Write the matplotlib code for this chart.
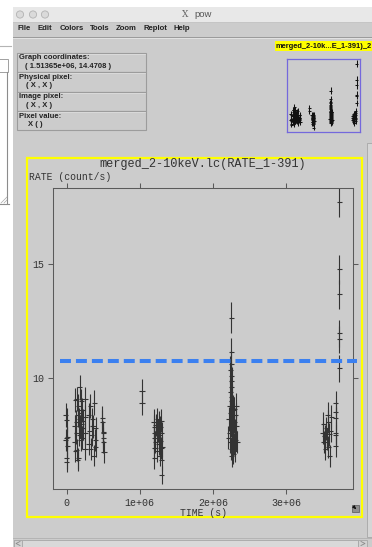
import numpy as np
import matplotlib.pyplot as plt
from matplotlib.patches import Rectangle, Circle

plt.rcParams['font.family'] = ['Liberation Mono', 'DejaVu Sans']

# light curve, one group per observation: time (Ms), rate (count/s), 1-sigma error
obs1_time = [-0.01, 0.00, 0.01, 0.00, -0.01, 0.01, 0.00, 0.00,
             0.11, 0.11, 0.12, 0.12, 0.13, 0.13, 0.14, 0.14, 0.15, 0.15, 0.16, 0.16,
             0.17, 0.17, 0.18, 0.18, 0.19, 0.19, 0.20, 0.20, 0.21, 0.21, 0.22, 0.22,
             0.25, 0.25, 0.25, 0.25,
             0.30, 0.30, 0.31, 0.32, 0.33, 0.34, 0.35, 0.36, 0.37, 0.38, 0.39, 0.40, 0.40,
             0.49, 0.49, 0.50, 0.50, 0.50, 0.50, 0.51]
obs1_rate = [8.39, 8.17, 7.44, 7.38, 7.29, 7.03, 6.50, 6.34,
             7.90, 7.20, 9.05, 6.80, 7.60, 8.10, 9.10, 6.85, 8.40, 6.40, 6.50, 8.80,
             7.50, 8.20, 9.60, 7.90, 8.50, 7.30, 9.00, 8.00, 7.40, 8.60, 8.15, 7.80,
             9.10, 8.30, 7.60, 6.90,
             8.40, 7.10, 7.70, 8.80, 6.90, 7.50, 8.20, 7.90, 6.60, 8.93, 7.30, 7.80, 7.00,
             8.26, 8.09, 7.65, 7.60, 7.38, 7.20, 6.77]
obs1_err = [0.52, 0.51, 0.49, 0.49, 0.48, 0.48, 0.46, 0.45,
            0.50, 0.48, 0.53, 0.47, 0.49, 0.51, 0.54, 0.47, 0.52, 0.46, 0.46, 0.53,
            0.49, 0.51, 0.56, 0.50, 0.52, 0.48, 0.54, 0.50, 0.49, 0.52, 0.51, 0.50,
            0.54, 0.52, 0.49, 0.47,
            0.52, 0.48, 0.50, 0.53, 0.47, 0.49, 0.51, 0.50, 0.46, 0.56, 0.48, 0.50, 0.47,
            0.52, 0.51, 0.50, 0.50, 0.49, 0.48, 0.47]

obs2_time = [1.03, 1.03]
obs2_rate = [9.44, 8.93]
obs2_err = [0.52, 0.53]

obs3_time = [1.19, 1.20, 1.20, 1.20, 1.21, 1.20, 1.20,
             1.22, 1.23, 1.24, 1.24, 1.25, 1.26, 1.26, 1.27, 1.27, 1.28, 1.28,
             1.29, 1.29, 1.30, 1.30, 1.30, 1.31]
obs3_rate = [8.10, 7.88, 7.59, 7.37, 7.22, 6.93, 6.49,
             7.95, 7.40, 8.20, 6.80, 7.70, 7.10, 8.05, 7.50, 6.60, 7.85, 7.25,
             6.95, 8.15, 5.76, 7.60, 6.40, 7.00]
obs3_err = [0.56, 0.50, 0.50, 0.49, 0.48, 0.47, 0.46,
            0.50, 0.49, 0.52, 0.47, 0.50, 0.48, 0.51, 0.49, 0.46, 0.50, 0.48,
            0.47, 0.51, 0.40, 0.49, 0.45, 0.47]

obs4_time = [2.25, 2.25, 2.25,
             2.24, 2.25, 2.26, 2.25, 2.24, 2.26, 2.25, 2.23, 2.27, 2.24, 2.28, 2.26,
             2.22, 2.29, 2.25, 2.27, 2.30, 2.23, 2.28, 2.26, 2.31, 2.24, 2.29, 2.27,
             2.25, 2.30, 2.28, 2.26, 2.32, 2.31, 2.21, 2.33, 2.32, 2.29]
obs4_rate = [12.66, 11.14, 10.63,
             10.35, 10.10, 9.90, 9.60, 9.40, 9.20, 9.00, 8.80, 8.70, 8.50, 8.60, 8.30,
             8.20, 8.10, 7.95, 7.80, 7.70, 7.60, 7.50, 7.40, 7.30, 7.20, 7.10, 7.00,
             6.90, 6.80, 6.70, 6.60, 7.90, 8.40, 7.40, 7.20, 8.80, 8.65]
obs4_err = [0.67, 0.63, 0.62,
            0.61, 0.60, 0.59, 0.58, 0.57, 0.57, 0.56, 0.55, 0.55, 0.54, 0.54, 0.53,
            0.53, 0.52, 0.52, 0.51, 0.51, 0.50, 0.50, 0.50, 0.49, 0.49, 0.48, 0.48,
            0.48, 0.47, 0.47, 0.47, 0.51, 0.53, 0.50, 0.49, 0.54, 0.54]

obs5_time = [3.50, 3.51, 3.52, 3.53, 3.54, 3.55, 3.56, 3.57, 3.58, 3.58, 3.59, 3.60, 3.61, 3.62,
             3.68, 3.68, 3.68, 3.68, 3.68, 3.68,
             3.73, 3.73, 3.73, 3.73, 3.73, 3.73]
obs5_rate = [7.60, 8.00, 7.20, 7.45, 6.90, 7.80, 7.35, 8.39, 7.00, 8.10, 7.55, 6.59, 7.70, 8.30,
             8.93, 8.54, 8.25, 7.59, 7.51, 7.03,
             17.75, 14.78, 13.68, 11.97, 11.71, 10.44]
obs5_err = [0.50, 0.51, 0.49, 0.50, 0.48, 0.51, 0.49, 0.55, 0.48, 0.52, 0.50, 0.47, 0.50, 0.52,
            0.52, 0.51, 0.50, 0.49, 0.49, 0.48,
            0.66, 0.64, 0.63, 0.60, 0.60, 0.58]

half_bin = 0.035e6        # half width of a time bin (s)
threshold = 10.75         # count/s

xticks = [0, 1e6, 2e6, 3e6]
xtick_labels = ['0', '1e+06', '2e+06', '3e+06']
yticks = [10, 15]

time = np.concatenate([obs1_time, obs2_time, obs3_time, obs4_time, obs5_time]) * 1e6
rate = np.concatenate([obs1_rate, obs2_rate, obs3_rate, obs4_rate, obs5_rate])
err = np.concatenate([obs1_err, obs2_err, obs3_err, obs4_err, obs5_err])

W, H = 372, 547
GRAY = '#cccccc'
SANS = ['Liberation Sans', 'DejaVu Sans']


def px_axes(x0, y0, x1, y1):
    return [x0 / W, 1 - y1 / H, (x1 - x0) / W, (y1 - y0) / H]


fig = plt.figure(figsize=(W / 100, H / 100), dpi=100, facecolor='white')

# window chrome drawn in pixel units
bg = fig.add_axes([0, 0, 1, 1], zorder=0)
bg.set_xlim(0, W)
bg.set_ylim(H, 0)
bg.axis('off')

# bits of the window behind, on the left
bg.plot([0, 11], [45.5, 45.5], color='#b4b4b4', lw=0.8)
bg.add_patch(Rectangle((-1, 59), 9, 13, fill=False, ec='#a0a0a0', lw=0.7))
bg.plot([7, 7], [72, 203], color='#8c8c8c', lw=0.8)
bg.plot([0, 9], [204, 204], color='#8c8c8c', lw=0.8)
for d in (0, 3, 6):
    bg.plot([1 + d, 7], [203, 197 + d], color='#a8a8a8', lw=0.5)

# main window
bg.add_patch(Rectangle((13, 7), W - 13, H - 7, fc=GRAY, ec='none'))
bg.add_patch(Rectangle((13, 7), W - 13, 15, fc='#e8e8e8', ec='none'))
bg.plot([13, W], [22, 22], color='#c4c4c4', lw=0.6)
for cx in (20, 33, 45):
    bg.add_patch(Circle((cx, 14.5), 3.6, fc='#dadada', ec='#b2b2b2', lw=0.6))
bg.text(185, 14.5, 'X', family='DejaVu Serif', fontsize=6.5, color='#666666', ha='center', va='center')
bg.text(194, 14.5, 'pow', family=SANS, fontsize=6.8, color='#555555', ha='left', va='center')

menu = [('File', 18), ('Edit', 38), ('Colors', 60), ('Tools', 90),
        ('Zoom', 116), ('Replot', 143), ('Help', 174)]
for label, mx in menu:
    bg.text(mx, 28.8, label, family=SANS, fontsize=5.6, weight='bold', color='#222222', va='center')
bg.plot([13, W], [36.8, 36.8], color='#9a9a9a', lw=0.7)
bg.plot([13, W], [37.8, 37.8], color='#e6e6e6', lw=0.6)

bg.add_patch(Rectangle((275, 41), 97, 10, fc='#ffff00', ec='none'))
bg.text(276, 46, 'merged_2-10k...E_1-391)_2', family=SANS, fontsize=5.4, weight='bold',
        color='#111111', va='center', clip_on=True)

# coordinate read-out panel
panel = [('Graph coordinates:', '( 1.51365e+06, 14.4708 )', 52.7, 72.3),
         ('Physical pixel:', '( X , X )', 72.3, 91.7),
         ('Image pixel:', '( X , X )', 91.7, 111.0),
         ('Pixel value:', 'X ( )', 111.0, 130.0)]
for head, value, top, bot in panel:
    bg.add_patch(Rectangle((16.7, top), 129, bot - top, fill=False, ec='#9c9c9c', lw=0.8))
    bg.plot([17.5, 145], [top + 0.9, top + 0.9], color='#e2e2e2', lw=0.5)
    bg.text(19, top + 5.2, head, family=SANS, fontsize=5.5, weight='bold', color='#222222', va='center')
    indent = 25 if value.startswith('( 1') else (26 if value.startswith('(') else 28)
    bg.text(indent, top + 13.5, value, family=SANS, fontsize=5.5, weight='bold', color='#222222', va='center')

# plot frame, scrollbars and resize handle
bg.add_patch(Rectangle((27, 158), 335, 359, fill=False, ec='#ffff00', lw=1.6))
bg.add_patch(Rectangle((352, 505), 7, 7, fc='#8f8f8f', ec='#555555', lw=0.5))
bg.annotate('', xy=(358, 511), xytext=(353, 506),
            arrowprops=dict(arrowstyle='-|>', color='#111111', lw=0.8, mutation_scale=4))
bg.add_patch(Rectangle((366.5, 143), 6, 394, fc='#d6d6d6', ec='#a6a6a6', lw=0.6))
bg.plot([13, W], [537.5, 537.5], color='#b0b0b0', lw=0.6)
bg.add_patch(Rectangle((14, 540), 344, 7, fc='#d9d9d9', ec='#a6a6a6', lw=0.6))
bg.add_patch(Rectangle((14, 540), 8, 7, fc='#d2d2d2', ec='#a6a6a6', lw=0.6))
bg.add_patch(Rectangle((358, 540), 9, 7, fc='#d2d2d2', ec='#a6a6a6', lw=0.6))
bg.plot([20, 16, 20], [541.5, 543.5, 545.5], color='#8a8a8a', lw=0.6)
bg.plot([361, 365, 361], [541.5, 543.5, 545.5], color='#8a8a8a', lw=0.6)

# light curve
ax = fig.add_axes(px_axes(53, 188, 353.3, 489), zorder=2)
ax.set_facecolor(GRAY)
ax.errorbar(time, rate, yerr=err, xerr=half_bin, fmt='none',
            ecolor='#333333', elinewidth=0.8, capsize=0)
ax.axhline(threshold, xmin=0.023, xmax=1.013, color='#3b80f0', lw=2.9,
           linestyle=(0, (2.72, 1.24)), clip_on=False, zorder=3)
ax.set_xlim(-0.187e6, 3.921e6)
ax.set_ylim(5.145, 18.35)
ax.set_xticks(xticks)
ax.set_xticklabels(xtick_labels)
ax.set_yticks(yticks)
for s in ax.spines.values():
    s.set_color('#5a5a5a')
    s.set_linewidth(0.75)
ax.tick_params(direction='out', length=3.6, width=0.75, color='#5a5a5a',
               labelsize=7.2, labelcolor='#333333', top=True, right=True)
ax.tick_params(axis='x', pad=2.8)
ax.tick_params(axis='y', pad=2.6)
ax.set_xlabel('TIME (s)', fontsize=7, color='#333333', labelpad=0)
ax.text(-0.08, 1.0365, 'RATE (count/s)', transform=ax.transAxes, fontsize=7,
        color='#333333', ha='left', va='center')
ax.text(0.5, 1.0797, 'merged_2-10keV.lc(RATE_1-391)', transform=ax.transAxes,
        fontsize=8.6, color='#333333', ha='center', va='center')

# overview thumbnail
th = fig.add_axes(px_axes(287, 59, 360, 132), zorder=2)
th.set_facecolor(GRAY)
th.errorbar(time, rate, yerr=err, xerr=half_bin * 2.5, fmt='none',
            ecolor='#111111', elinewidth=0.75, capsize=0)
th.set_xlim(-0.23e6, 3.92e6)
th.set_ylim(5.0, 18.6)
th.set_xticks([])
th.set_yticks([])
for s in th.spines.values():
    s.set_color('#7468dc')
    s.set_linewidth(0.9)

fig.savefig('out.png', dpi=100, facecolor='white')
